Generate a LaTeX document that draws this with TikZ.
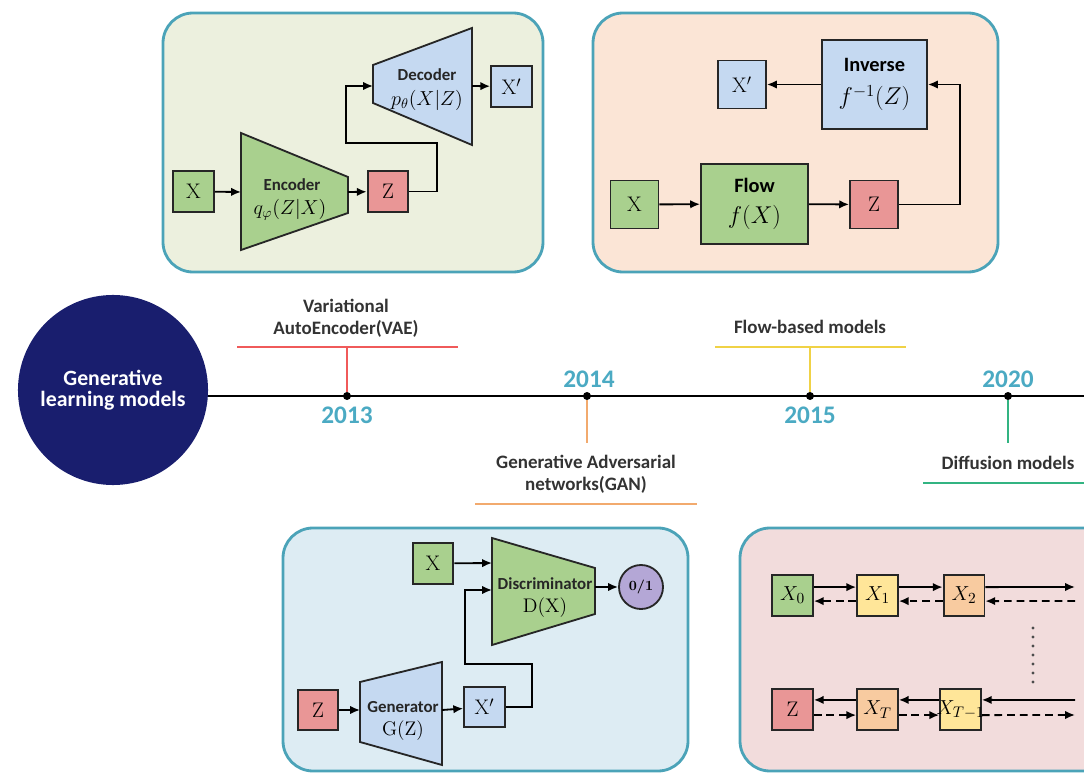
\documentclass[tikz,border=0pt]{standalone}
\usepackage{fontspec}
\usepackage{amsmath}
\usetikzlibrary{arrows.meta}
\newfontfamily\cali{Carlito}

\definecolor{panelline}{RGB}{75,163,184}
\definecolor{vaebg}{RGB}{236,240,222}
\definecolor{flowbg}{RGB}{251,229,214}
\definecolor{ganbg}{RGB}{221,236,243}
\definecolor{diffbg}{RGB}{242,220,220}
\definecolor{boxgreen}{RGB}{169,208,142}
\definecolor{boxred}{RGB}{233,150,150}
\definecolor{boxblue}{RGB}{197,217,241}
\definecolor{boxyellow}{RGB}{255,230,153}
\definecolor{boxorange}{RGB}{248,203,160}
\definecolor{outpurple}{RGB}{180,167,214}
\definecolor{deepnavy}{RGB}{25,30,110}
\definecolor{yearblue}{RGB}{75,170,195}
\definecolor{vaeline}{RGB}{240,90,90}
\definecolor{ganline}{RGB}{242,170,110}
\definecolor{flowline}{RGB}{240,210,70}
\definecolor{diffline}{RGB}{50,180,130}

\begin{document}
\begin{tikzpicture}[x=0.025cm, y=-0.025cm,
panel/.style = {draw=panelline, line width=2pt, rounded corners=0.75cm},
box/.style = {draw=black!85, line width=1.3pt, inner sep=0pt,
            minimum width=#1, minimum height=#1,
            font=\fontsize{15}{15}\selectfont},
box/.default = 1.02cm,
trap/.style = {draw=black!85, line width=1.3pt},
boxname/.style = {font=\cali\bfseries\fontsize{12}{12}\selectfont, text=black!85},
boxmath/.style = {font=\fontsize{14}{14}\selectfont},
arr/.style = {-{Latex[length=7pt,width=6pt]}, line width=1.3pt},
backarr/.style = {arr, dash pattern=on 5.5pt off 3.5pt},
event/.style = {font=\cali\bfseries\fontsize{13.5}{15.5}\selectfont,
            text=black!80, align=center},
year/.style = {font=\cali\bfseries\fontsize{18}{18}\selectfont, text=yearblue},
bar/.style = {line width=1.5pt},
dot/.style = {circle, fill, minimum size=#1,
            inner sep=0pt, outer sep=0pt},
dot/.default = 0.2cm  % timeline marks
                ]
    \clip (0,0) rectangle (1084,773);
    \def\hi{0.21cm}
    \def\lo{-0.14cm}

    % panels
    \draw[panel, fill=vaebg] (163,13) rectangle (543,272);
    \draw[panel, fill=flowbg] (593,13) rectangle (998,272);
    \draw[panel, fill=ganbg] (283,528) rectangle (688,771);
    \draw[panel, fill=diffbg] (740,528) rectangle (1120,771);

    % timeline
    \node[circle, fill=deepnavy, minimum size=4.75cm, inner sep=0pt, text=white,
        align=center, font=\cali\bfseries\fontsize{15.5}{15}\selectfont] (glm) at (113,390)
        {Generative\\learning models};
    \coordinate (tlend) at (1090,396);
    \draw[line width=1.6pt] (glm.east |- tlend) -- (tlend);
    \foreach \x/\n in {347/a, 587/b, 810/c, 1008/d}
        \node[dot] (t\n) at (\x,396) {};

    \coordinate (ba) at (347,347);
    \coordinate (bb) at (587,443);
    \coordinate (bc) at (810,347);
    \coordinate (bd) at (1008,443);
    \draw[bar, vaeline] (ta.north) -- (ba);
    \draw[bar, vaeline] (237,347) -- (458,347);
    \draw[bar, ganline] (tb.south) -- (bb);
    \draw[bar, ganline] (475,504) -- (697,504);
    \draw[bar, flowline] (tc.north) -- (bc);
    \draw[bar, flowline] (715,347) -- (906,347);
    \draw[bar, diffline] (td.south) -- (bd);
    \draw[bar, diffline] (923,483) -- (1090,483);

    \node[event] (la) at (346,318) {Variational\\AutoEncoder(VAE)};
    \node[event] (lb) at (586,474) {Generative Adversarial\\networks(GAN)};
    \node[event] (lc) at (810,327) {Flow-based models};
    \node[event] (ld) at (1008,463) {Diffusion models};
    \foreach \x/\y/\t in {347/415/2013, 589/379/2014, 810/415/2015, 1008/379/2020}
        \node[year] (y\t) at (\x,\y) {\t};

    % VAE
    \node[box, fill=boxgreen] (vx) at (193.5,191.5) {X};
    \draw[trap, fill=boxgreen] (241,133) -- (348,177) -- (348,213) -- (241,250) -- cycle;
    \coordinate (encin) at (241,192);
    \coordinate (encout) at (348,192);
    \node[boxname] (enc) at (292,185) {Encoder};
    \node[boxmath] (encf) at (290,210) {$q_\varphi(Z|X)$};
    \node[box, fill=boxred] (vz) at (388,191.5) {Z};
    \draw[trap, fill=boxblue] (373,65) -- (472,28) -- (472,145) -- (373,103) -- cycle;
    \coordinate (decin) at (373,86);
    \coordinate (decout) at (472,86);
    \node[boxname] (dec) at (427,75) {Decoder};
    \node[boxmath] (decf) at (427,100) {$p_\theta(X|Z)$};
    \node[box, fill=boxblue] (vxp) at (511.5,86.5) {X$'$};
    \draw[arr] (vx) -- (encin);
    \draw[arr] (encout) -- (vz);
    \draw[arr] (vz.east) -- ++(28,0) |- (346,143) |- (decin);
    \draw[arr] (decout) -- (vxp);

    % flow
    \node[box=1.2cm, fill=boxgreen] (fx) at (634.5,204.5) {X};
    \node[box, minimum width=2.675cm, minimum height=2cm, fill=boxgreen, align=center]
        (flow) at (754.5,204) {{\cali\bfseries\fontsize{14.5}{14.5}\selectfont Flow}\\[7pt]
        \fontsize{17}{17}\selectfont$f(X)$};
    \node[box=1.2cm, fill=boxred] (fz) at (874,204.5) {Z};
    \node[box, minimum width=2.625cm, minimum height=2.225cm, fill=boxblue, align=center]
        (inv) at (874.5,84.5) {{\cali\bfseries\fontsize{14.5}{14.5}\selectfont Inverse}\\[9pt]
        \fontsize{17}{17}\selectfont$f^{-1}(Z)$};
    \node[box=1.2cm, fill=boxblue] (fxp) at (742,84.5) {X$'$};
    \draw[arr] (fx) -- (flow);
    \draw[arr] (flow) -- (fz);
    \draw[arr] (fz.east) -- ++(61,0) |- (inv.east);
    \draw[arr] (inv) -- (fxp);

    % GAN
    \node[box, fill=boxgreen] (gx) at (433,563.5) {X};
    \draw[trap, fill=boxgreen] (492,538) -- (595,568) -- (595,614) -- (492,645) -- cycle;
    \coordinate (discin) at (492,563);
    \coordinate (discback) at (492,590);
    \coordinate (discout) at (595,587);
    \node[boxname] (disc) at (545,584) {Discriminator};
    \node[boxmath] (discf) at (545,608) {D(X)};
    \node[circle, draw=black!85, line width=1.3pt, fill=outpurple, minimum size=1.1cm,
        inner sep=0pt, font=\bfseries\fontsize{10}{10}\selectfont] (gout) at (641,587) {0/1};
    \node[box, fill=boxred] (gz) at (318,710) {Z};
    \draw[trap, fill=boxblue] (360,682) -- (442,662) -- (442,765) -- (360,742) -- cycle;
    \coordinate (genin) at (360,710);
    \coordinate (genout) at (442,710);
    \node[boxname] (gen) at (403,707) {Generator};
    \node[boxmath] (genf) at (403,731) {G(Z)};
    \node[box, fill=boxblue] (gxp) at (484.5,707) {X$'$};
    \draw[arr] (gx) -- (discin);
    \draw[arr] (discout) -- (gout);
    \draw[arr] (gz) -- (genin);
    \draw[arr] (genout) -- (gxp);
    \draw[arr] (gxp.east) -- ++(26,0) |- (465,664) |- (discback);

    % diffusion
    \foreach \x/\n/\c/\t in {792.5/d0/boxgreen/X_0, 877.5/d1/boxyellow/X_1, 964/d2/boxorange/X_2}
        \node[box, fill=\c] (\n) at (\x,595.5) {$\t$};
    \foreach \x/\n/\c/\t in {792.5/dz/boxred/\mathrm{Z}, 877.5/dt/boxorange/X_T, 960.5/dtm/boxyellow/\makebox[0pt]{$X_{T-1}$}}
        \node[box, fill=\c] (\n) at (\x,709.5) {$\t$};
    \coordinate (f1) at (1075,587);
    \coordinate (f2) at (1075,601);
    \coordinate (f3) at (1075,700);
    \coordinate (f4) at (1075,715);
    \foreach \a/\b in {d0/d1, d1/d2}{
        \draw[arr] ([yshift=\hi]\a.east) -- ([yshift=\hi]\b.west);
        \draw[backarr] ([yshift=\lo]\b.west) -- ([yshift=\lo]\a.east);
    }
    \draw[arr] ([yshift=\hi]d2.east) -- (f1);
    \draw[backarr] (f2) -- ([yshift=\lo]d2.east);
    \foreach \a/\b in {dz/dt, dt/dtm}{
        \draw[arr] ([yshift=0.24cm]\b.west) -- ([yshift=0.24cm]\a.east);
        \draw[backarr] ([yshift=\lo]\a.east) -- ([yshift=\lo]\b.west);
    }
    \draw[arr] (f3) -- ([yshift=0.24cm]dtm.east);
    \draw[backarr] ([yshift=\lo]dtm.east) -- (f4);
    \foreach \y in {628,637,...,682}
        \fill[black!70] (1033,\y) circle (1.1pt);
\end{tikzpicture}
\end{document}
